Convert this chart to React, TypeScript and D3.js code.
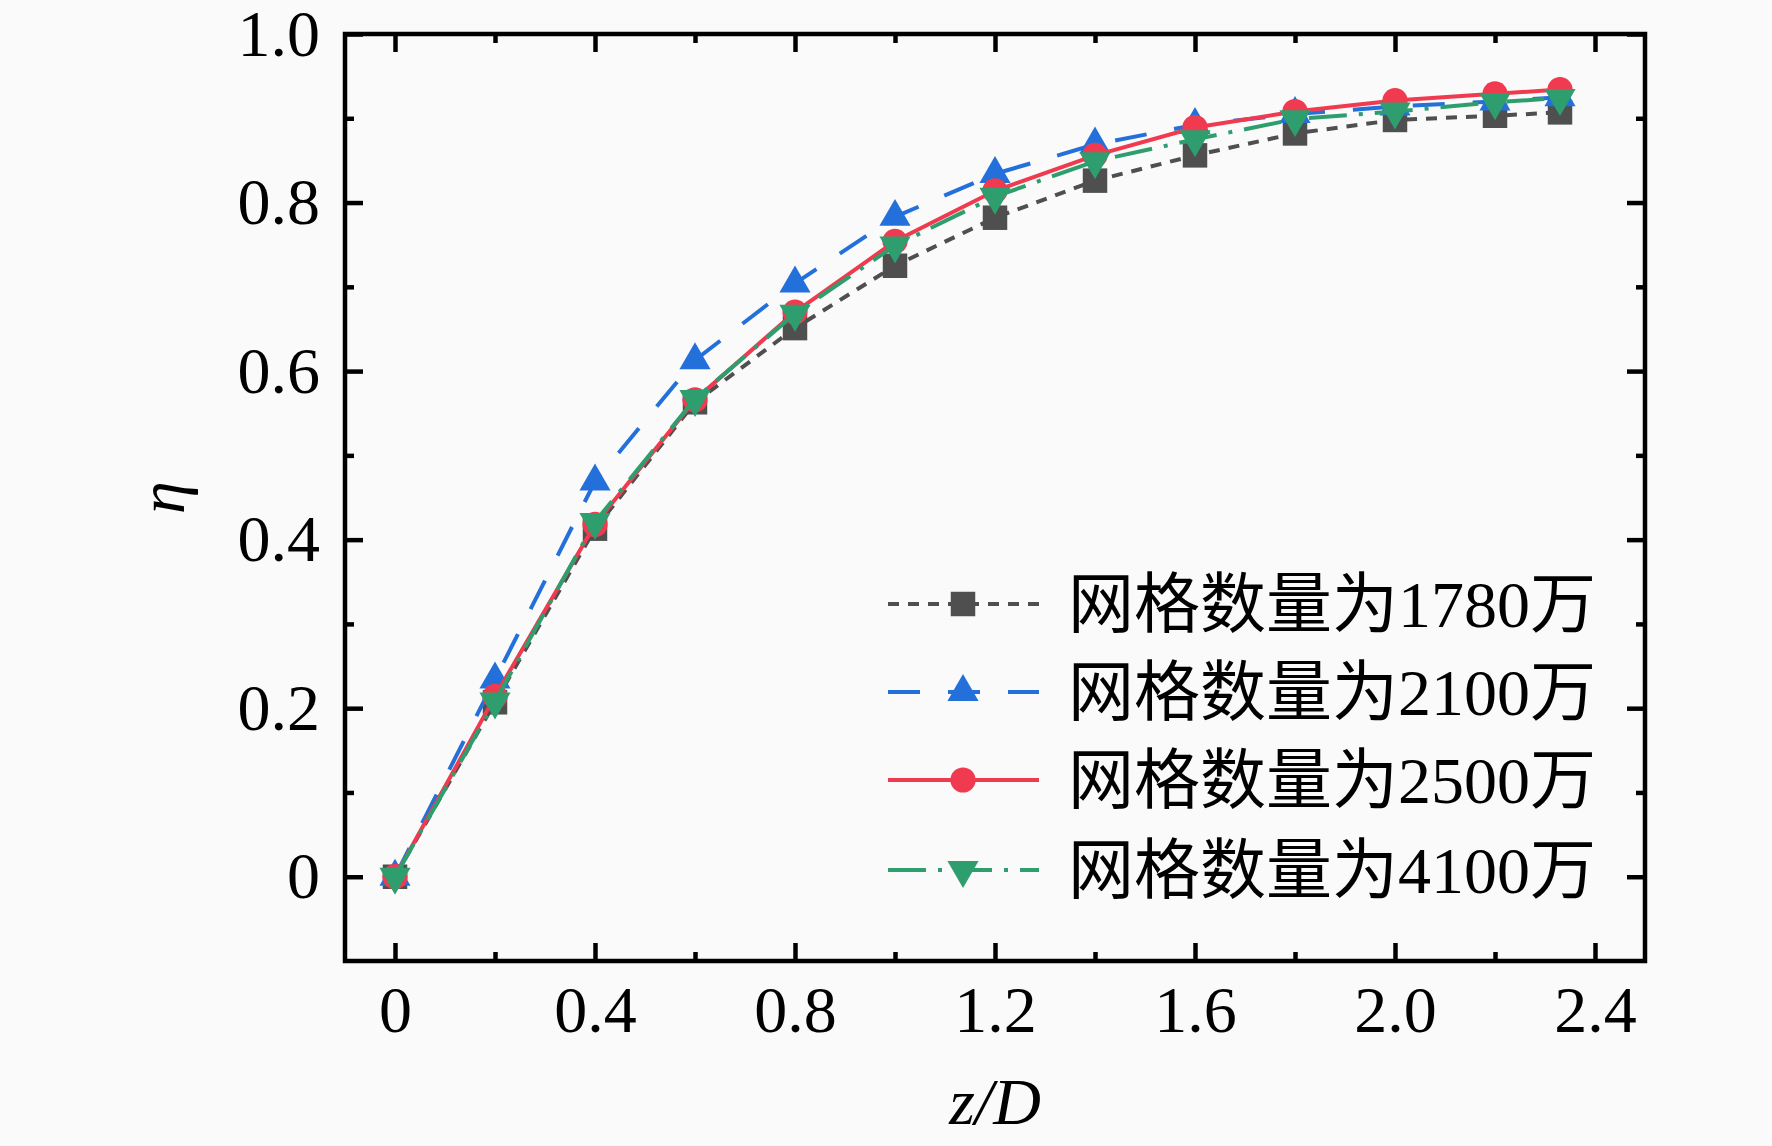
import {useEffect, useRef} from 'react';
import * as d3 from 'd3';

const W = 1772;
const H = 1146;
const margin = {left: 345, right: W - 1645, top: 34, bottom: H - 961};

const zD = [0, 0.2, 0.4, 0.6, 0.8, 1.0, 1.2, 1.4, 1.6, 1.8, 2.0, 2.2, 2.33];
const eta1780 = [0, 0.207, 0.413, 0.563, 0.651, 0.725, 0.782, 0.826, 0.856, 0.882, 0.898, 0.903, 0.907];
const eta2100 = [0, 0.234, 0.469, 0.613, 0.704, 0.783, 0.834, 0.869, 0.892, 0.905, 0.914, 0.92, 0.925];
const eta2500 = [0, 0.214, 0.418, 0.566, 0.67, 0.754, 0.814, 0.856, 0.889, 0.908, 0.921, 0.929, 0.934];
const eta4100 = [0, 0.208, 0.421, 0.567, 0.668, 0.749, 0.807, 0.849, 0.875, 0.899, 0.908, 0.919, 0.924];

const legendPrefix = '网格数量为';
const legendCounts = ['1780', '2100', '2500', '4100'];
const legendUnit = '万';
const xTicks = [0, 0.4, 0.8, 1.2, 1.6, 2.0, 2.4];
const xMinor = [0.2, 0.6, 1.0, 1.4, 1.8, 2.2];
const yTicks = [0, 0.2, 0.4, 0.6, 0.8, 1.0];
const yMinor = [0.1, 0.3, 0.5, 0.7, 0.9];

const styles = [
  {color: '#4f4f4f', dash: '11,9', symbol: d3.symbolSquare, size: 600, rotate: 0},
  {color: '#2470db', dash: '32,28', symbol: d3.symbolTriangle, size: 420, rotate: 0},
  {color: '#f03a4f', dash: null, symbol: d3.symbolCircle, size: 500, rotate: 0},
  {color: '#2e9e6e', dash: '38,12,4,12', symbol: d3.symbolTriangle, size: 420, rotate: 180},
];

const SERIF = '"Liberation Serif", "Times New Roman", serif';
const CJK = '"Noto Sans CJK SC", sans-serif';

const App = () => {
  const ref = useRef<SVGSVGElement>(null);

  useEffect(() => {
    const svg = d3.select(ref.current);
    svg.selectAll('*').remove();

    const x = d3.scaleLinear().domain([-0.1, 2.5]).range([margin.left, W - margin.right]);
    const y = d3.scaleLinear().domain([-0.1, 1.0]).range([H - margin.bottom, margin.top]);

    svg.append('rect').attr('width', W).attr('height', H).attr('fill', '#fafafa');

    // axes with inward ticks on all four sides
    const fmt = (d: number) => (d === 0 ? '0' : d3.format('.1f')(d));

    const addAxis = (axis: any, tx: number, ty: number) => {
      const g = svg.append('g').attr('transform', `translate(${tx},${ty})`).call(axis);
      g.select('.domain').remove();
      g.selectAll('line').attr('stroke', '#000').attr('stroke-width', 4.5);
      g.selectAll('text').attr('font-family', SERIF).attr('font-size', 66).attr('fill', '#000');
      return g;
    };

    addAxis(d3.axisBottom(x).tickValues(xTicks).tickSize(-18).tickPadding(24).tickFormat(fmt as any), 0, H - margin.bottom);
    addAxis(d3.axisBottom(x).tickValues(xMinor).tickSize(-9).tickFormat(() => ''), 0, H - margin.bottom);
    addAxis(d3.axisTop(x).tickValues(xTicks).tickSize(-18).tickFormat(() => ''), 0, margin.top);
    addAxis(d3.axisTop(x).tickValues(xMinor).tickSize(-9).tickFormat(() => ''), 0, margin.top);
    addAxis(d3.axisLeft(y).tickValues(yTicks).tickSize(-18).tickPadding(25).tickFormat(fmt as any), margin.left, 0);
    addAxis(d3.axisLeft(y).tickValues(yMinor).tickSize(-9).tickFormat(() => ''), margin.left, 0);
    addAxis(d3.axisRight(y).tickValues(yTicks).tickSize(-18).tickFormat(() => ''), W - margin.right, 0);
    addAxis(d3.axisRight(y).tickValues(yMinor).tickSize(-9).tickFormat(() => ''), W - margin.right, 0);

    svg
      .append('rect')
      .attr('x', margin.left)
      .attr('y', margin.top)
      .attr('width', W - margin.left - margin.right)
      .attr('height', H - margin.top - margin.bottom)
      .attr('fill', 'none')
      .attr('stroke', '#000')
      .attr('stroke-width', 4.5);

    // series
    const allSeries = [eta1780, eta2100, eta2500, eta4100];
    const line = d3
      .line<number>()
      .x((_, i) => x(zD[i]))
      .y((d) => y(d));

    allSeries.forEach((vals, k) => {
      const s = styles[k];
      svg
        .append('path')
        .datum(vals)
        .attr('fill', 'none')
        .attr('stroke', s.color)
        .attr('stroke-width', 4)
        .attr('stroke-dasharray', s.dash)
        .attr('d', line);
      const sym = d3.symbol().type(s.symbol).size(s.size);
      svg
        .append('g')
        .selectAll('path')
        .data(vals)
        .enter()
        .append('path')
        .attr('d', sym)
        .attr('fill', s.color)
        .attr('transform', (d, i) => `translate(${x(zD[i])},${y(d)}) rotate(${s.rotate})`);
    });

    // legend
    const lg = svg.append('g');
    const legendY = [604, 692, 780, 870];
    legendCounts.forEach((count, k) => {
      const s = styles[k];
      const ly = legendY[k];
      lg.append('line')
        .attr('x1', 888)
        .attr('x2', 1039)
        .attr('y1', ly)
        .attr('y2', ly)
        .attr('stroke', s.color)
        .attr('stroke-width', 4)
        .attr('stroke-dasharray', s.dash);
      lg.append('path')
        .attr('d', d3.symbol().type(s.symbol).size(s.size)())
        .attr('fill', s.color)
        .attr('transform', `translate(963,${ly}) rotate(${s.rotate})`);
      const t = lg
        .append('text')
        .attr('x', 1068)
        .attr('y', ly)
        .attr('dy', '0.35em')
        .attr('font-size', 66)
        .attr('fill', '#000');
      t.append('tspan').attr('font-family', CJK).text(legendPrefix);
      t.append('tspan').attr('font-family', SERIF).text(count);
      t.append('tspan').attr('font-family', CJK).text(legendUnit);
    });

    // axis titles
    svg
      .append('text')
      .attr('x', (margin.left + W - margin.right) / 2)
      .attr('y', 1124)
      .attr('text-anchor', 'middle')
      .attr('font-family', SERIF)
      .attr('font-size', 66)
      .attr('font-style', 'italic')
      .text('z/D');

    svg
      .append('text')
      .attr('transform', `translate(184,${(margin.top + H - margin.bottom) / 2}) rotate(-90)`)
      .attr('text-anchor', 'middle')
      .attr('font-family', SERIF)
      .attr('font-size', 66)
      .attr('font-style', 'italic')
      .text('η');
  }, []);

  return <svg ref={ref} width={W} height={H} style={{position: 'absolute', left: 0, top: 0}} />;
};

export default App;
